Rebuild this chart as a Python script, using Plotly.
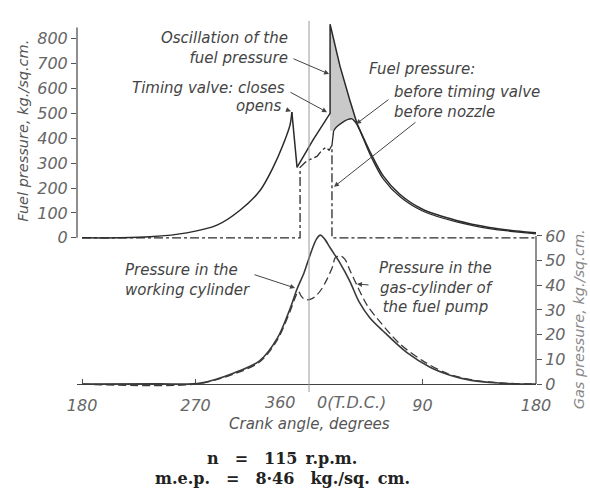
import plotly.graph_objects as go

# ---------------- data ----------------
# Fuel pressure before timing valve (kg/sq.cm) vs crank angle (deg, 0 = TDC)
crank_tv = [-180, -150, -126, -97, -73, -55, -39, -28.5, -20.6, -15.1, -13.6, -9.5, 3.2, 16.7, 16.7,
            24.6, 32.5, 38, 48.4, 58.7, 72, 90, 117, 143, 170, 180]
p_tv = [0, 0, 4, 20, 51, 110, 189, 283, 374, 453, 505, 283, 394, 500, 858,
        689, 551, 460, 346, 250, 175, 115, 70, 42, 25, 20]

# Fuel pressure before nozzle (dash-dot)
crank_nz = [-180, -7.1, -7.1, -3.2, 0.8, 6.3, 10.3, 13.5, 15.9, 18.2, 18.2, 180]
p_nz = [0, 0, 283, 303, 315, 327, 352, 364, 352, 372, 0, 0]

# Lower envelope of the oscillation and decay
crank_env = [18.2, 19.5, 22, 26, 30, 34, 38, 48.4, 58.7, 72, 90, 117, 143, 170, 180]
p_env = [372, 430, 446, 462, 474, 478, 455, 335, 238, 166, 108, 64, 37, 21, 16]

# Oscillation (shaded) region
osc_upper_crank = [16.7, 24.6, 32.5, 38]
osc_upper_p = [858, 689, 551, 460]
osc_lower_crank = [16.7, 19.5, 22, 26, 30, 34, 38]
osc_lower_p = [430, 430, 446, 462, 474, 478, 460]

# Gas pressure in the working cylinder (kg/sq.cm)
crank_wc = [-180, -120, -86, -60, -39, -25, -15, -9.5, -4, 1, 6, 9, 12, 17, 24.6, 32.5, 39.6,
            48, 58.7, 77.7, 96, 111.8, 127.7, 151, 167, 180]
g_wc = [0, 0.1, 0.4, 4.4, 9.5, 18.7, 30.6, 38.5, 45, 52.5, 58.8, 60.3, 59, 55, 49, 41.5, 33.4,
        27, 21.5, 12.7, 6.8, 3.6, 1.6, 0.4, 0, 0]

# Gas pressure in the gas-cylinder of the fuel pump
crank_fp = [-180, -90, -60, -39, -25, -15, -11, -8.5, -6, -3, 2, 6, 10, 14.3, 19, 20.6, 24.6,
            28.5, 32.5, 38, 46, 56, 72, 90, 109, 130, 154, 180]
g_fp = [0, 0, 4, 9, 18, 29.5, 35, 37.5, 35.5, 34.2, 34.5, 36, 38.5, 42.5, 48, 51, 52,
        50.5, 46, 40, 32, 25.4, 16.3, 9.5, 4.4, 1.6, 0.4, 0]

x_tickvals = [-180, -90, 90, 180]
x_ticktext = ["180", "270", "90", "180"]
fuel_ticks = [0, 100, 200, 300, 400, 500, 600, 700, 800]
gas_ticks = [0, 10, 20, 30, 40, 50, 60]

# ---------------- styling ----------------
LINE = "#2a2a2a"
TXT = "#444444"
TICK = "#666666"
SANS = "DejaVu Sans"
it = lambda size, color=TXT: dict(family=SANS, size=size, color=color, style="italic")

fig = go.Figure()

def seg(xs, ys, a, b, yaxis, shape="linear", **line):
    fig.add_trace(go.Scatter(x=xs[a:b], y=ys[a:b], mode="lines",
                             line=dict(shape=shape, smoothing=0.9 if shape == "spline" else None, **line),
                             xaxis="x", yaxis=yaxis, showlegend=False, hoverinfo="skip"))

# shaded oscillation
fig.add_trace(go.Scatter(
    x=osc_upper_crank + osc_lower_crank[::-1], y=osc_upper_p + osc_lower_p[::-1],
    fill="toself", fillcolor="#c9c9c9", line=dict(width=0), mode="lines",
    xaxis="x", yaxis="y", hoverinfo="skip", showlegend=False))

# before nozzle (dash-dot)
seg(crank_nz, p_nz, 0, len(crank_nz), "y", color=LINE, width=1.3, dash="dashdot")
# lower envelope
seg(crank_env, p_env, 0, 2, "y", color=LINE, width=1.3)
seg(crank_env, p_env, 1, len(crank_env), "y", "spline", color=LINE, width=1.3)
# before timing valve
seg(crank_tv, p_tv, 0, 11, "y", "spline", color=LINE, width=1.5)
seg(crank_tv, p_tv, 10, 18, "y", color=LINE, width=1.5)
seg(crank_tv, p_tv, 17, len(crank_tv), "y", "spline", color=LINE, width=1.5)

# gas pressures
seg(crank_fp, g_fp, 0, len(crank_fp), "y2", "spline", color="#3a3a3a", width=1.3, dash="8px,4px")
seg(crank_wc, g_wc, 0, len(crank_wc), "y2", "spline", color="#3a3a3a", width=1.6)

# ---------------- layout ----------------
def fy(p):  # pixel -> paper fraction (plot area 10..390)
    return (390 - p) / 380

fig.update_layout(
    width=590, height=490,
    margin=dict(l=77, r=54, t=10, b=100),
    paper_bgcolor="white", plot_bgcolor="rgba(0,0,0,0)",
    xaxis=dict(range=[-184, 180], domain=[0, 1], anchor="free", position=fy(384),
               showline=True, linecolor="#444", linewidth=1.2,
               ticks="inside", ticklen=5, tickcolor="#555",
               tickvals=x_tickvals, ticktext=x_ticktext, tickfont=it(16, TICK),
               ticklabelstandoff=7, showgrid=False, zeroline=False),
    yaxis=dict(range=[-20, 887.2], domain=[fy(240.07), 1.0], anchor="x", side="left",
               showline=False, ticks="outside", ticklen=5, tickcolor="#555",
               tickvals=fuel_ticks, tickfont=it(16, TICK),
               showgrid=False, zeroline=False),
    yaxis2=dict(range=[-2.4, 61], domain=[0, fy(230.5)], anchor="x", side="right",
                showline=False, ticks="outside", ticklen=5, tickcolor="#555",
                tickvals=gas_ticks, tickfont=it(16, TICK),
                showgrid=False, zeroline=False),
)

shapes = [
    dict(type="line", xref="x", yref="paper", x0=0, x1=0, y0=fy(392), y1=fy(14),
         line=dict(color="#9a9a9a", width=1)),
    dict(type="line", xref="x domain", yref="y", x0=0, x1=0, y0=0, y1=845,
         line=dict(color="#444", width=1.2)),
    dict(type="line", xref="x domain", yref="y2", x0=1, x1=1, y0=0, y1=60,
         line=dict(color="#444", width=1.2)),
]
fig.update_layout(shapes=shapes)

ann = []
def text(x, y, s, yref="y", xanchor="left", align="left", size=15, color=TXT, xref="x"):
    ann.append(dict(x=x, y=y, xref=xref, yref=yref, text=s, showarrow=False,
                    xanchor=xanchor, yanchor="middle", align=align, font=it(size, color)))

def arrow(hx, hy, tx, ty, yref="y"):
    ann.append(dict(x=hx, y=hy, ax=tx, ay=ty, xref="x", yref=yref, axref="x", ayref=yref,
                    text="", showarrow=True, arrowhead=2, arrowsize=1, arrowwidth=1,
                    arrowcolor="#444"))

text(-15.1, 761, "Oscillation of the<br>fuel pressure", xanchor="right", align="right")
text(-17.4, 603, "Timing valve: closes", xanchor="right", align="right")
text(-20.6, 528, "opens", xanchor="right", align="right")
text(46, 678, "Fuel pressure:")
text(65.8, 546, "before timing valve<br>before nozzle")
text(-147.5, 42.1, "Pressure in the<br>working cylinder", yref="y2")
text(100.7, 39.3, "Pressure in the<br>gas-cylinder of<br>the fuel pump", yref="y2",
     xanchor="center", align="center")

arrow(15.9, 658, -13.5, 722)
arrow(14.3, 505, -15.9, 588)
arrow(-14.3, 509, -19, 517)
arrow(37.3, 457, 64.2, 560)
arrow(19.8, 205, 85.6, 469)
arrow(-11.1, 38.9, -44.4, 44.5, yref="y2")
arrow(38, 40.5, 48.4, 40.1, yref="y2")

text(-8.7, fy(403), "360", yref="paper", xanchor="right", size=16, color=TICK)
text(4.8, fy(403), "0(T.D.C.)", yref="paper", xanchor="left", size=16, color=TICK)
text(0, fy(425), "Crank angle, degrees", yref="paper", xanchor="center", size=15, color="#555")
ann.append(dict(x=(23 - 77) / 459, y=fy(126), xref="paper", yref="paper",
                text="Fuel pressure, kg./sq.cm.", textangle=-90, showarrow=False,
                xanchor="center", yanchor="middle", font=it(14.5, "#555")))
ann.append(dict(x=(579 - 77) / 459, y=fy(318), xref="paper", yref="paper",
                text="Gas pressure, kg./sq.cm.", textangle=-90, showarrow=False,
                xanchor="center", yanchor="middle", font=it(14.5, "#888")))
serif = dict(family="DejaVu Serif", size=16, color="#222", weight="bold")
ann.append(dict(x=-21.4, y=fy(460), xref="x", yref="paper",
                text="n\u2003=\u2003115\u2002r.p.m.", showarrow=False,
                xanchor="center", yanchor="middle", font=serif))
ann.append(dict(x=-21.4, y=fy(480), xref="x", yref="paper",
                text="m.e.p.\u2003=\u20038\u00b746\u2003kg./sq.\u2002cm.", showarrow=False,
                xanchor="center", yanchor="middle", font=serif))

fig.update_layout(annotations=ann)
fig.write_html("out.html")
